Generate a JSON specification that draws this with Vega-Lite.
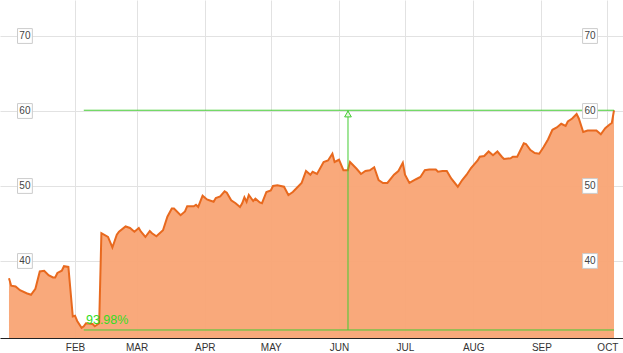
{
  "$schema": "https://vega.github.io/schema/vega-lite/v6.json",
  "width": 623,
  "height": 338,
  "padding": {"left": 0, "right": 0, "top": 0, "bottom": 15},
  "autosize": {"type": "none"},
  "background": "white",
  "config": {"view": {"stroke": null}, "font": "Liberation Sans"},
  "datasets": {
    "prices": [
      {"d":"2014-01-02","v":37.7},{"d":"2014-01-03","v":36.7},{"d":"2014-01-05","v":36.6},{"d":"2014-01-07","v":36.1},
      {"d":"2014-01-10","v":35.7},{"d":"2014-01-12","v":35.5},{"d":"2014-01-14","v":36.3},{"d":"2014-01-16","v":38.6},
      {"d":"2014-01-18","v":38.7},{"d":"2014-01-20","v":38.1},{"d":"2014-01-22","v":37.8},{"d":"2014-01-23","v":37.8},
      {"d":"2014-01-24","v":38.4},{"d":"2014-01-26","v":38.7},{"d":"2014-01-27","v":39.3},{"d":"2014-01-29","v":39.2},
      {"d":"2014-01-31","v":32.6},{"d":"2014-02-01","v":32.7},{"d":"2014-02-02","v":32.0},{"d":"2014-02-04","v":31.1},
      {"d":"2014-02-05","v":31.3},{"d":"2014-02-06","v":31.7},{"d":"2014-02-09","v":31.6},{"d":"2014-02-10","v":31.3},
      {"d":"2014-02-12","v":31.7},{"d":"2014-02-13","v":43.7},{"d":"2014-02-16","v":43.2},{"d":"2014-02-18","v":41.8},
      {"d":"2014-02-20","v":43.5},{"d":"2014-02-21","v":43.9},{"d":"2014-02-24","v":44.6},{"d":"2014-02-26","v":44.4},
      {"d":"2014-02-28","v":43.9},{"d":"2014-03-02","v":44.4},{"d":"2014-03-03","v":43.9},{"d":"2014-03-05","v":43.2},
      {"d":"2014-03-07","v":44.0},{"d":"2014-03-08","v":43.7},{"d":"2014-03-10","v":43.3},{"d":"2014-03-13","v":44.1},
      {"d":"2014-03-15","v":45.9},{"d":"2014-03-17","v":47.0},{"d":"2014-03-18","v":47.0},{"d":"2014-03-21","v":46.1},
      {"d":"2014-03-23","v":46.6},{"d":"2014-03-24","v":47.3},{"d":"2014-03-27","v":47.3},{"d":"2014-03-28","v":47.5},
      {"d":"2014-03-29","v":47.2},{"d":"2014-03-31","v":48.7},{"d":"2014-04-02","v":48.2},{"d":"2014-04-03","v":48.1},
      {"d":"2014-04-05","v":47.9},{"d":"2014-04-06","v":48.4},{"d":"2014-04-08","v":48.6},{"d":"2014-04-10","v":49.3},
      {"d":"2014-04-11","v":49.1},{"d":"2014-04-13","v":48.1},{"d":"2014-04-15","v":47.7},{"d":"2014-04-17","v":47.2},
      {"d":"2014-04-18","v":47.7},{"d":"2014-04-19","v":48.5},{"d":"2014-04-20","v":47.9},{"d":"2014-04-21","v":48.8},
      {"d":"2014-04-23","v":48.0},{"d":"2014-04-24","v":48.3},{"d":"2014-04-26","v":47.8},{"d":"2014-04-27","v":47.7},
      {"d":"2014-04-29","v":49.2},{"d":"2014-05-01","v":49.4},{"d":"2014-05-02","v":50.0},{"d":"2014-05-04","v":50.1},
      {"d":"2014-05-07","v":49.9},{"d":"2014-05-09","v":48.8},{"d":"2014-05-11","v":49.2},{"d":"2014-05-13","v":49.8},
      {"d":"2014-05-15","v":50.4},{"d":"2014-05-17","v":52.0},{"d":"2014-05-19","v":51.5},{"d":"2014-05-20","v":51.9},
      {"d":"2014-05-22","v":51.6},{"d":"2014-05-25","v":53.2},{"d":"2014-05-27","v":53.4},{"d":"2014-05-29","v":54.3},
      {"d":"2014-05-30","v":53.2},{"d":"2014-06-01","v":53.5},{"d":"2014-06-03","v":52.1},{"d":"2014-06-05","v":52.1},
      {"d":"2014-06-06","v":53.2},{"d":"2014-06-09","v":52.3},{"d":"2014-06-11","v":51.6},{"d":"2014-06-13","v":52.0},
      {"d":"2014-06-15","v":52.1},{"d":"2014-06-17","v":52.5},{"d":"2014-06-19","v":50.8},{"d":"2014-06-21","v":50.4},
      {"d":"2014-06-23","v":50.4},{"d":"2014-06-26","v":51.5},{"d":"2014-06-28","v":52.0},{"d":"2014-06-30","v":53.1},
      {"d":"2014-07-01","v":51.5},{"d":"2014-07-03","v":50.4},{"d":"2014-07-06","v":50.9},{"d":"2014-07-08","v":51.2},
      {"d":"2014-07-10","v":52.1},{"d":"2014-07-12","v":52.2},{"d":"2014-07-15","v":52.2},{"d":"2014-07-16","v":51.9},
      {"d":"2014-07-18","v":52.0},{"d":"2014-07-20","v":52.0},{"d":"2014-07-22","v":51.0},{"d":"2014-07-25","v":49.9},
      {"d":"2014-07-27","v":50.8},{"d":"2014-07-29","v":51.5},{"d":"2014-07-31","v":52.4},{"d":"2014-08-03","v":53.4},
      {"d":"2014-08-04","v":53.9},{"d":"2014-08-06","v":54.0},{"d":"2014-08-08","v":54.6},{"d":"2014-08-10","v":54.1},
      {"d":"2014-08-12","v":54.6},{"d":"2014-08-14","v":53.9},{"d":"2014-08-15","v":53.6},{"d":"2014-08-18","v":53.7},
      {"d":"2014-08-19","v":53.9},{"d":"2014-08-21","v":53.9},{"d":"2014-08-24","v":55.7},{"d":"2014-08-25","v":55.6},
      {"d":"2014-08-27","v":54.8},{"d":"2014-08-29","v":54.4},{"d":"2014-08-31","v":54.3},{"d":"2014-09-02","v":55.2},
      {"d":"2014-09-04","v":56.2},{"d":"2014-09-06","v":57.5},{"d":"2014-09-08","v":57.8},{"d":"2014-09-10","v":58.3},
      {"d":"2014-09-12","v":58.0},{"d":"2014-09-13","v":58.6},{"d":"2014-09-15","v":59.0},{"d":"2014-09-17","v":59.6},
      {"d":"2014-09-18","v":59.0},{"d":"2014-09-20","v":57.2},{"d":"2014-09-22","v":57.4},{"d":"2014-09-24","v":57.4},
      {"d":"2014-09-26","v":57.4},{"d":"2014-09-28","v":56.9},{"d":"2014-09-30","v":57.7},{"d":"2014-10-02","v":58.2},
      {"d":"2014-10-03","v":58.4},{"d":"2014-10-04","v":60.1}
    ],
    "hlines": [
      {"d1":"2014-02-05","d2":"2014-10-04","v":60.1},
      {"d1":"2014-02-05","d2":"2014-10-04","v":30.8}
    ],
    "vline": [{"d":"2014-06-05T02:00:00Z","v1":30.8,"v2":60.1}],
    "arrow": [{"d":"2014-06-05T02:00:00Z","v":59.6}],
    "gain": [{"d":"2014-02-06","v":32.1,"label":"93.98%"}],
    "ylabels": [
      {"d":"2014-01-09T06:00:00Z","v":70},{"d":"2014-01-09T06:00:00Z","v":60},
      {"d":"2014-01-09T06:00:00Z","v":50},{"d":"2014-01-09T06:00:00Z","v":40},
      {"d":"2014-09-23T02:00:00Z","v":70},{"d":"2014-09-23T02:00:00Z","v":60},
      {"d":"2014-09-23T02:00:00Z","v":50},{"d":"2014-09-23T02:00:00Z","v":40}
    ]
  },
  "encoding": {
    "x": {
      "field": "d", "type": "temporal",
      "scale": {"type": "utc", "domain": [
        {"year": 2013, "month": 12, "date": 28, "hours": 22, "utc": true},
        {"year": 2014, "month": 10, "date": 8, "hours": 2, "utc": true}
      ]},
      "axis": {
        "title": null,
        "values": [
          {"year": 2014, "month": 2, "date": 1, "utc": true},
          {"year": 2014, "month": 3, "date": 1, "utc": true},
          {"year": 2014, "month": 4, "date": 1, "utc": true},
          {"year": 2014, "month": 5, "date": 1, "utc": true},
          {"year": 2014, "month": 6, "date": 1, "utc": true},
          {"year": 2014, "month": 7, "date": 1, "utc": true},
          {"year": 2014, "month": 8, "date": 1, "utc": true},
          {"year": 2014, "month": 9, "date": 1, "utc": true},
          {"year": 2014, "month": 10, "date": 1, "utc": true}
        ],
        "labelExpr": "upper(utcFormat(datum.value, '%b'))",
        "labelFont": "Liberation Sans", "labelFontSize": 10, "labelColor": "#333333",
        "labelPadding": 4, "ticks": false,
        "grid": true, "gridColor": "#e2e2e2", "gridWidth": 1,
        "domainColor": "#222222", "domainWidth": 1.2,
        "labelFlush": false, "labelOverlap": false
      }
    },
    "y": {
      "field": "v", "type": "quantitative",
      "scale": {"domain": [29.73, 74.8], "zero": false, "nice": false},
      "axis": {
        "title": null, "values": [40, 50, 60, 70], "labels": false, "ticks": false,
        "domain": false, "grid": true, "gridColor": "#e2e2e2", "gridWidth": 1
      }
    }
  },
  "layer": [
    {
      "data": {"name": "prices"},
      "mark": {"type": "area", "color": "#f9a474", "opacity": 0.95,
               "line": {"color": "#e8691e", "strokeWidth": 2}},
      "encoding": {"y2": {"datum": 29.73}}
    },
    {
      "data": {"name": "hlines"},
      "mark": {"type": "rule", "color": "#44cc33", "strokeWidth": 1},
      "encoding": {"x": {"field": "d1", "type": "temporal"}, "x2": {"field": "d2"}, "y": {"field": "v", "type": "quantitative"}}
    },
    {
      "data": {"name": "vline"},
      "mark": {"type": "rule", "color": "#44cc33", "strokeWidth": 1},
      "encoding": {"x": {"field": "d", "type": "temporal"}, "y": {"field": "v1", "type": "quantitative"}, "y2": {"field": "v2"}}
    },
    {
      "data": {"name": "arrow"},
      "mark": {"type": "point", "shape": "triangle-up", "size": 45, "filled": true, "fill": "#e6f7df", "stroke": "#44cc33", "strokeWidth": 1, "opacity": 1}
    },
    {
      "data": {"name": "gain"},
      "mark": {"type": "text", "align": "left", "baseline": "middle", "color": "#33dd22", "fontSize": 12.5, "font": "Liberation Sans"},
      "encoding": {"text": {"field": "label"}}
    },
    {
      "data": {"name": "ylabels"},
      "mark": {"type": "point", "shape": "square", "size": 220, "filled": true, "fill": "white", "stroke": "#cccccc", "strokeWidth": 1, "opacity": 1}
    },
    {
      "data": {"name": "ylabels"},
      "mark": {"type": "text", "align": "center", "baseline": "middle", "color": "#444444", "fontSize": 10, "font": "Liberation Sans"},
      "encoding": {"text": {"field": "v", "type": "quantitative"}}
    }
  ]
}
